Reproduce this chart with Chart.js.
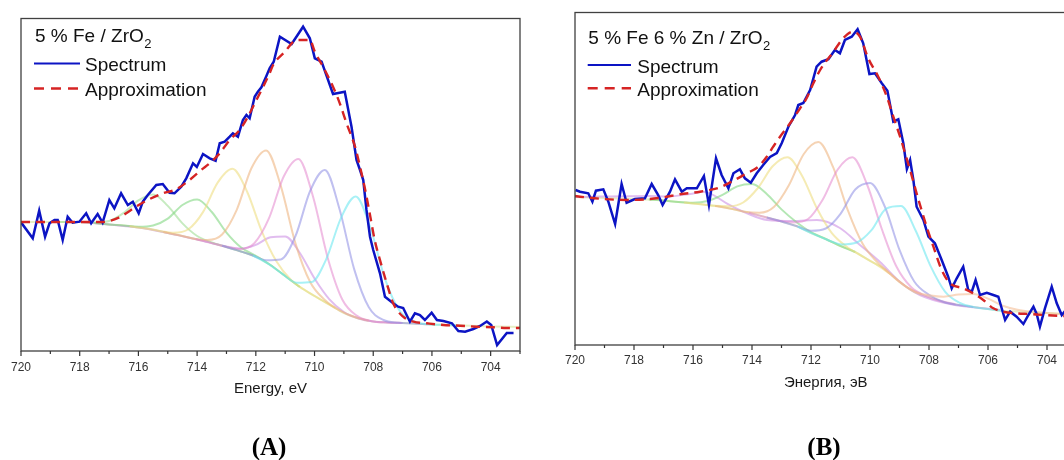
<!DOCTYPE html>
<html>
<head>
<meta charset="utf-8">
<script src="https://cdn.jsdelivr.net/npm/chart.js@4/dist/chart.umd.min.js"></script>
<style>
  html, body { margin: 0; padding: 0; background: #fff; overflow: hidden; width: 1064px; height: 460px; }
  .wrap { position: absolute; top: 0; }
  canvas { display: block; }
  .tag { position: absolute; font-family: "Liberation Serif", "Times New Roman", serif; font-weight: bold;
         font-size: 25px; color: #000; transform: translate(-50%, -50%); white-space: nowrap; }
</style>
</head>
<body>
<div class="wrap" style="left:0px"><canvas id="chartA" width="540" height="460"></canvas></div>
<div class="wrap" style="left:554px"><canvas id="chartB" width="560" height="460"></canvas></div>
<div class="tag" style="left:269px; top:447px">(A)</div>
<div class="tag" style="left:824px; top:447px">(B)</div>
<script>
// ---------- Panel A: 5 % Fe / ZrO2, Fe 2p3/2 region (binding energy, eV; intensity, a.u.) ----------
const aSpecE = [720.00,719.60,719.38,719.18,719.03,718.86,718.75,718.58,718.41,718.24,
  718.01,717.78,717.61,717.39,717.22,716.99,716.82,716.59,716.36,716.19,
  715.99,715.85,715.68,715.39,715.17,714.94,714.77,714.54,714.37,714.14,
  714.01,713.80,713.57,713.37,713.23,713.06,712.89,712.78,712.61,712.44,
  712.32,712.21,712.04,711.93,711.81,711.64,711.53,711.39,711.18,710.78,
  710.39,710.16,709.99,709.76,709.37,708.97,708.74,708.57,708.45,708.34,
  708.23,708.11,708.00,707.77,707.60,707.32,707.15,706.98,706.75,706.58,
  706.41,706.24,706.01,705.83,705.61,705.32,705.10,704.87,704.59,704.36,
  704.13,703.98,703.78,703.45,703.22];
const aSpecI = [128.7,112.7,140.3,114.3,127.7,131,131,111,134.3,128.3,
  129.3,137.7,127.7,137,128.3,151,142.7,157.7,146,149.3,
  137.7,149.3,156,166,167,158.3,157.7,164.3,172.7,187.7,
  184,197,192.7,190.3,207.7,209.3,214.3,217.7,214.3,231,
  236,232.7,254.3,259.3,263.7,275,282.7,289.3,314.3,307,
  324.3,312.7,292.7,289.3,257,259.3,224.3,191,181,171,
  141,114.3,101,77.7,54.3,47.7,44.3,43,29.3,37.7,
  36,31,38.3,31,30,27.7,20,19.3,22,25,
  29.5,26,6,18,18];
const aFitE = [720,719,718,717.22,716.99,716.65,716.08,715.73,715.17,714.71,
  714.26,713.86,713.57,713.23,712.89,712.55,712.27,711.98,711.75,711.53,
  711.41,711.01,710.61,710.16,709.99,709.71,709.37,709.14,708.91,708.62,
  708.45,708.25,708.11,707.95,707.77,707.54,707.32,706.98,706.63,706.18,
  705.61,705.04,704.47,703.90,703.45,703.0];
const aFitI = [129,129,129,129,130,133.7,144.3,150.3,157.7,161.7,
  171,181,187.7,197.7,211,221,234.3,251,264.3,277.7,
  286,299.3,311,311,299.3,284.3,264.3,247.7,227.7,204.3,
  184.3,157.7,136,111,91,67.7,47.7,34.3,29.3,27.7,
  26,25.3,24.3,23.7,23,23];
const aBgE = [720,718,717.5,717,716.5,716,715.5,715,714.5,714,713.5,713,712.5,712,711.5,711,710.5,710,709.5,709,708.5,708,707.5,707,706,705,704,703];
const aBgI = [129,129,128,126.5,125.5,123.5,121.5,118,115,111.5,108,104,99.5,94.5,86,75,64,55,46.5,38,32.5,29.5,28.5,28,26.5,25.5,24.5,24];
// fitted components (each drawn on top of the background, joining it at both ends)
const aC1E = [719,718.5,718,717.5,717,716.5,716,715.5,715,714.5,714,713.5,713,712.5,712];
const aC1I = [129,129,129,128.6,130,138.1,150.6,156.5,145.1,127.6,115,108.6,104,99.5,94.5];
const aC2E = [717.5,717,716.5,716,715.5,715,714.5,714,713.5,713,712.5,712,711.5,711,710.5];
const aC2I = [128,126.5,125.5,124.2,125.5,132.4,146,151.5,139,118.4,103.5,95.2,86,75,64];
const aC3E = [716.3,715.8,715.3,714.8,714.3,713.8,713.3,712.8,712.3,711.8,711.3,710.8,710.3,709.8,709.3];
const aC3I = [124.7,122.7,120.1,118.2,121.7,138.9,168.4,182.2,159.5,119.9,89.7,71.0,60.4,51.6,43.1];
const aC4E = [715.15,714.65,714.15,713.65,713.15,712.65,712.15,711.65,711.15,710.65,710.15,709.65,709.15,708.65,708.15];
const aC4I = [119.1,115.9,112.6,111,116.5,141.2,182.8,200.6,165.1,107.6,69,51,40.6,34.2,30.4];
const aC5E = [714.05,713.55,713.05,712.55,712.05,711.55,711.05,710.55,710.05,709.55,709.05,708.55,708.05,707.55,707.05];
const aC5I = [111.9,108.4,104.4,102.1,107.8,132.8,174.5,192.1,154.3,93.1,51.3,35.1,29.8,28.6,28.1];
const aC6E = [713.15,712.65,712.15,711.65,711.15,710.65,710.15,709.65,709.15,708.65,708.15,707.65,707.15,706.65,706.15];
const aC6I = [105.2,100.9,96,90.8,91.6,114.8,160,181.1,142,81.9,43.7,31,28.2,27.6,26.7];
const aC7E = [712.1,711.6,711.1,710.6,710.1,709.6,709.1,708.6,708.1,707.6,707.1,706.6,706.1,705.6,705.1];
const aC7I = [95.5,87.7,77.2,68.2,69,91.9,132.9,154.5,123.5,72.2,40.3,29.6,26.6,26.1,25.6];
const aC8E = [718,717,716,715,714,713,712.5,712,711.5,711,710.5,710,709.5,709,708.5,708,707.5,707];
const aC8I = [129,126.5,123.5,118,111.5,104.5,102.4,106.1,113.7,114.6,98,72.5,51.9,39,32.5,29.5,28.5,28];

// ---------- Panel B: 5 % Fe 6 % Zn / ZrO2 ----------
const bSpecE = [719.98,719.83,719.55,719.41,719.29,719.04,718.87,718.64,718.42,718.25,
  717.97,717.63,717.40,717.18,717.03,716.78,716.61,716.38,716.21,715.87,
  715.63,715.46,715.22,715.03,714.80,714.63,714.41,714.24,714.04,713.84,
  713.62,713.39,713.16,712.99,712.77,712.54,712.43,712.26,712.03,711.81,
  711.64,711.41,711.19,711.02,710.85,710.62,710.42,710.23,710.02,709.83,
  709.60,709.41,709.21,709.04,708.87,708.75,708.64,708.53,708.42,708.19,
  708.02,707.80,707.57,707.35,707.23,707.06,706.84,706.67,706.55,706.42,
  706.27,706.04,705.82,705.65,705.42,705.25,705.03,704.80,704.63,704.46,
  704.35,704.24,704.07,703.84,703.67,703.50,703.36,703.15];
const bSpecI = [155,153.3,151.7,143.3,154.3,155.7,143.3,121,161,142.3,
  146,146.7,161,150,140,153.3,165.7,153.3,156.7,156.7,
  169,140,186.7,170,156.7,171.7,175.7,166.7,162.3,171.7,
  180,188,192,202,218,230,240,242,255,278.3,
  283.3,285.7,295,291.7,305,308.3,315.7,301.7,271,271.7,
  261.7,254.3,223.3,225.7,201.7,176,185,165,138.3,125,
  108.3,101.7,85,68.3,56.7,66.7,78.3,55,53.3,65,
  50,52.3,50,48.3,25,33.3,28.3,21,30,38.3,
  31,18.3,36.7,58.3,41.7,30,35,27];
const bFitE = [720,719.83,719.04,718.25,717.57,717.01,716.44,715.76,715.08,714.63,
  714.18,713.80,713.50,713.28,713.05,712.71,712.37,712.15,711.92,711.69,
  711.24,710.91,710.57,710.34,710.06,709.72,709.43,709.21,708.98,708.81,
  708.64,708.42,708.08,707.85,707.57,707.29,706.84,706.50,706.16,705.82,
  705.48,705.03,704.58,704.12,703.44,703.0];
const bFitI = [149,148.3,146,145,145.7,147.7,150.7,153.3,157.7,164.3,
  171.7,178,188.3,198.3,208.3,221.7,236.7,246.7,261.7,275,
  293.3,306.7,313.3,308.3,286.7,268.3,248.3,228.3,208.3,191.7,
  175,151.7,118.3,98.3,75,61.7,56.7,51.7,45,36.7,
  33.3,31.7,31,30,29,28.5];
const bBgE = [720,719,718,717.5,717,716.5,716,715.5,715,714.5,714,713.5,713,712.5,712,711.5,711,710.5,710,709.5,709,708.5,708,707.5,707,706.5,706,705.5,705,704,703];
const bBgI = [148,147,146,145.5,144.5,143,141.5,140,138,135,131.5,127.5,123.5,119,112,106,99,93,84,76,63,53,48,43,40,38,36,34,33.5,32,30];
const bC2E = [717.5,717,716.5,716,715.5,715,714.5,714,713.5,713,712.5,712,711.5,711,710.5];
const bC2I = [145.5,144.5,143,142.3,144,150.1,158.6,161,151.1,135.6,123,112.8,106,99,93];
const bC3E = [716.3,715.8,715.3,714.8,714.3,713.8,713.3,712.8,712.3,711.8,711.3,710.8,710.3,709.8,709.3];
const bC3I = [142.4,140.9,139.2,138.7,142.5,157,178.7,187.7,169,136.7,112.1,98.5,89.4,80.8,70.8];
const bC4E = [715.25,714.75,714.25,713.75,713.25,712.75,712.25,711.75,711.25,710.75,710.25,709.75,709.25,708.75,708.25];
const bC4I = [139,136.5,133.3,132.2,138.2,159.8,190.8,203,177.8,134.6,101.2,82.7,69.5,58,50.5];
const bC5E = [714.1,713.6,713.1,712.6,712.1,711.6,711.1,710.6,710.1,709.6,709.1,708.6,708.1,707.6,707.1];
const bC5I = [132.2,128.3,124.3,122.6,126,145.6,175.3,187.7,160.5,116,78.2,57.7,49,44,40.6];
const bC6E = [713.5,713,712.5,712,711.5,711,710.5,710,709.5,709,708.5,708,707.5,707,706.5];
const bC6I = [127.5,123.5,119,114.2,116.5,131.1,155.5,162,138.5,95.1,63.5,50.2,43,40,38];
const bC7E = [712.45,711.95,711.45,710.95,710.45,709.95,709.45,708.95,708.45,707.95,707.45,706.95,706.45,705.95,705.45];
const bC7I = [118.3,111.4,105.3,100.6,102.5,114.8,136.4,139,114.2,79.1,53.1,42,37.8,35.8,34];
const bC8E = [720,717.46,716.89,716.10,715.65,715.42,714.86,714.17,713.49,712.61,711.80,711.02,710.34,709.66,708.98,708.31,707.29,705.59];
const bC8I = [148,149,148.5,151,153.3,151.7,141.7,131.7,125,124,125,117,100,83,63,50,41,35];
const bC9E = [709.5,709,708.5,708,707.5,707,706.5,706,705.5,705,704.5,704,703];
const bC9I = [76,63,53.4,49.8,48.3,50.4,51,46.4,39.3,35.3,33.2,32,30];

// energy axis range and intensity range shared by both panels
const energyMin = 703, energyMax = 720;
const intensityMax = 332.5;

// ---------- styling ----------
const FONT = '"Liberation Sans", Arial, sans-serif';
const SPEC_COLOR = '#0c14c4';
const FIT_COLOR = '#d62424';
const compColors = {
  c1: 'rgba(160,222,150,0.6)',
  c2: 'rgba(130,215,130,0.6)',
  c3: 'rgba(238,222,130,0.6)',
  c4: 'rgba(238,182,130,0.6)',
  c5: 'rgba(228,135,205,0.55)',
  c6: 'rgba(140,140,228,0.55)',
  c7: 'rgba(110,232,240,0.6)',
  c8: 'rgba(205,145,228,0.6)',
  c9: 'rgba(245,190,150,0.6)',
  bg: 'rgba(215,228,160,0.6)'
};

function pts(E, I) { return E.map((e, i) => ({ x: e, y: I[i] })); }

function specSet(E, I) {
  return { data: pts(E, I), borderColor: SPEC_COLOR, borderWidth: 2.5, tension: 0, pointRadius: 0 };
}
function fitSet(E, I) {
  return { data: pts(E, I), borderColor: FIT_COLOR, borderWidth: 2.4, borderDash: [9, 6],
           cubicInterpolationMode: 'monotone', pointRadius: 0 };
}
function compSet(E, I, color) {
  return { data: pts(E, I), borderColor: color, borderWidth: 2, cubicInterpolationMode: 'monotone', pointRadius: 0 };
}

// frame, minor/major ticks, inset title and legend
const decor = {
  id: 'decor',
  afterDatasetsDraw(chart, args, o) {
    const ctx = chart.ctx, ca = chart.chartArea, xs = chart.scales.x;
    ctx.save();
    ctx.strokeStyle = '#404040';
    ctx.lineWidth = 1.3;
    ctx.strokeRect(ca.left, ca.top, ca.right - ca.left, ca.bottom - ca.top);
    ctx.strokeStyle = '#333';
    ctx.lineWidth = 1.2;
    for (let e = Math.ceil(xs.min); e <= xs.max; e++) {
      const px = xs.getPixelForValue(e);
      const len = e % 2 === 0 ? 5 : 3;
      ctx.beginPath();
      ctx.moveTo(px, ca.bottom);
      ctx.lineTo(px, ca.bottom + len);
      ctx.stroke();
    }
    ctx.fillStyle = '#111';
    ctx.textBaseline = 'alphabetic';
    ctx.textAlign = 'left';
    ctx.font = '19px ' + FONT;
    ctx.fillText(o.title, o.tx, o.ty);
    const w = ctx.measureText(o.title).width;
    ctx.font = '13px ' + FONT;
    ctx.fillText(o.sub, o.tx + w + 0.5, o.ty + 5.5);
    ctx.font = '19px ' + FONT;
    o.rows.forEach(r => {
      ctx.beginPath();
      ctx.strokeStyle = r.color;
      ctx.lineWidth = r.width;
      ctx.setLineDash(r.dash || []);
      ctx.moveTo(o.lx0, r.ly);
      ctx.lineTo(o.lx1, r.ly);
      ctx.stroke();
      ctx.setLineDash([]);
      ctx.fillStyle = '#111';
      ctx.fillText(r.text, o.textX, r.ty);
    });
    ctx.restore();
  }
};

function makeChart(id, cfg) {
  return new Chart(document.getElementById(id), {
    type: 'line',
    data: { datasets: cfg.datasets },
    options: {
      responsive: false,
      animation: false,
      events: [],
      layout: { padding: cfg.pad },
      plugins: { legend: { display: false }, tooltip: { enabled: false }, decor: cfg.decor },
      scales: {
        x: {
          type: 'linear', reverse: true, min: energyMin, max: energyMax,
          afterFit: s => { s.height = 50; },
          grid: { display: false, drawTicks: false },
          border: { display: false },
          ticks: {
            stepSize: 1, autoSkip: false, maxRotation: 0, padding: cfg.tickPad,
            color: '#333', font: { family: FONT, size: 12 },
            callback: v => (v % 2 === 0 ? String(v) : '')
          },
          title: { display: true, text: cfg.xTitle, color: '#1a1a1a',
                   font: { family: FONT, size: 15 }, padding: { top: 0, bottom: 3 } }
        },
        y: { display: false, min: 0, max: intensityMax }
      }
    },
    plugins: [decor]
  });
}

makeChart('chartA', {
  pad: { left: 21, right: 20, top: 18.5, bottom: 59 },
  tickPad: 9,
  xTitle: 'Energy, eV',
  decor: {
    title: '5 % Fe / ZrO', sub: '2', tx: 35, ty: 42.3,
    lx0: 34, lx1: 80, textX: 85,
    rows: [
      { text: 'Spectrum', color: SPEC_COLOR, width: 2, ly: 63.5, ty: 70.5 },
      { text: 'Approximation', color: FIT_COLOR, width: 2.4, dash: [10, 7], ly: 88.5, ty: 95.5 }
    ]
  },
  datasets: [
    fitSet(aFitE, aFitI),
    specSet(aSpecE, aSpecI),
    compSet(aC7E, aC7I, compColors.c7),
    compSet(aC6E, aC6I, compColors.c6),
    compSet(aC5E, aC5I, compColors.c5),
    compSet(aC4E, aC4I, compColors.c4),
    compSet(aC3E, aC3I, compColors.c3),
    compSet(aC2E, aC2I, compColors.c2),
    compSet(aC1E, aC1I, compColors.c1),
    compSet(aC8E, aC8I, compColors.c8),
    compSet(aBgE, aBgI, compColors.bg)
  ]
});

makeChart('chartB', {
  pad: { left: 21, right: 37.5, top: 12.5, bottom: 65 },
  tickPad: 8,
  xTitle: 'Энергия, эВ',
  decor: {
    title: '5 % Fe 6 % Zn / ZrO', sub: '2', tx: 34.3, ty: 44.3,
    lx0: 33.7, lx1: 77, textX: 83.3,
    rows: [
      { text: 'Spectrum', color: SPEC_COLOR, width: 2, ly: 65, ty: 72.5 },
      { text: 'Approximation', color: FIT_COLOR, width: 2.4, dash: [10, 7], ly: 88.3, ty: 96 }
    ]
  },
  datasets: [
    fitSet(bFitE, bFitI),
    specSet(bSpecE, bSpecI),
    compSet(bC9E, bC9I, compColors.c9),
    compSet(bC7E, bC7I, compColors.c7),
    compSet(bC6E, bC6I, compColors.c6),
    compSet(bC5E, bC5I, compColors.c5),
    compSet(bC4E, bC4I, compColors.c4),
    compSet(bC3E, bC3I, compColors.c3),
    compSet(bC2E, bC2I, compColors.c2),
    compSet(bC8E, bC8I, compColors.c8),
    compSet(bBgE, bBgI, compColors.bg)
  ]
});
</script>
</body>
</html>
